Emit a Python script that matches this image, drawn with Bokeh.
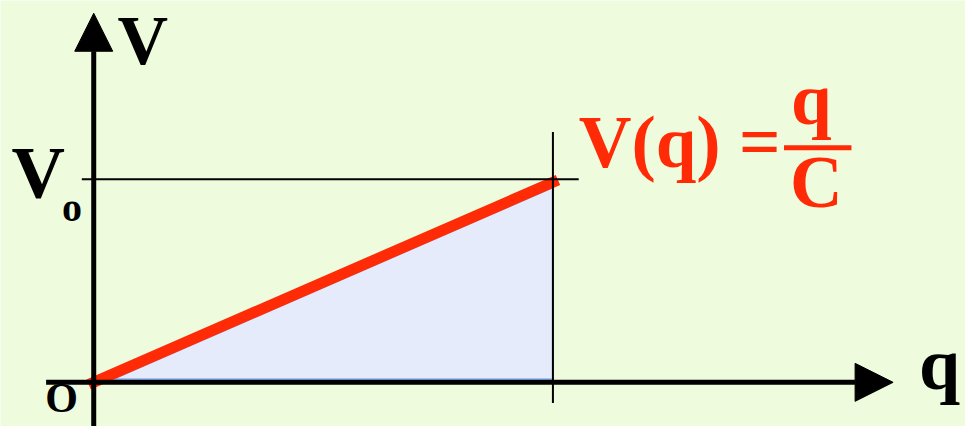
from bokeh.plotting import figure
from bokeh.models import Range1d, Arrow, NormalHead, Label
from bokeh.embed import file_html
from bokeh.resources import INLINE

# ---- data (charge q vs potential V for a capacitor, in units of Q0 / V0) ----
q_line = [0.0, 1.0]          # q from 0 to Q0
v_line = [0.0, 0.985]        # V(q) = q / C, reaching V0 at Q0
q_area = [0.04, 1.0, 1.0]    # shaded energy triangle
v_area = [0.015, 0.015, 0.96]
Q0 = 1.0
V0 = 1.0
axis_labels = ["V", "q"]
tick_labels = ["V", "o", "O"]
formula = ["V(q) =", "q", "C"]

# ---- layout helpers (reference pixel -> data units) ----
OX, OY = 94.0, 389.0       # origin in reference pixels
SX, SY = 463.0, 207.0      # reference pixels per unit
REF_W, REF_H = 973, 434
W, H = 965, 426
BASE_SHIFT = 0.37          # empirical baseline correction (em)

def dx(px):
    return (px - OX) / SX

def dy(py):
    return (OY - py) / SY

BG = "#EEFBDD"
RED = "#FF2B06"
FONT = "Liberation Serif"

p = figure(width=W, height=H, output_backend="svg", toolbar_location=None,
           x_range=Range1d(dx(0), dx(REF_W)),
           y_range=Range1d(dy(REF_H), dy(0)),
           x_axis_type=None, y_axis_type=None,
           min_border=0, min_border_left=0, min_border_right=0,
           min_border_top=0, min_border_bottom=0)
p.background_fill_color = BG
p.border_fill_color = BG
p.outline_line_color = None
p.grid.visible = False

# shaded triangle
p.patch(q_area, v_area, fill_color="#E5EBFB", line_color="#8DB5F6", line_width=2)

# V(q) line
p.line(q_line, v_line, line_color=RED, line_width=11, line_cap="square")

# guide lines at V0 and Q0
p.line([dx(82), dx(583)], [V0, V0], line_color="black", line_width=2)
p.line([Q0, Q0], [dy(410), dy(134)], line_color="black", line_width=2)

# axes with arrows
p.add_layout(Arrow(x_start=0, y_start=dy(REF_H + 10), x_end=0, y_end=dy(13),
                   line_color="black", line_width=5,
                   end=NormalHead(size=38, fill_color="black", line_color="black", line_width=1)))
p.add_layout(Arrow(x_start=dx(46), y_start=0, x_end=dx(900), y_end=0,
                   line_color="black", line_width=5,
                   end=NormalHead(size=38, fill_color="black", line_color="black", line_width=1)))

def lab(text, x_px, base_px, size, color="black"):
    p.add_layout(Label(x=dx(x_px), y=dy(base_px - BASE_SHIFT * size), text=text,
                       text_font=FONT, text_font_style="bold",
                       text_font_size=f"{size}px", text_color=color,
                       text_align="left", text_baseline="alphabetic"))

# axis labels
lab(axis_labels[0], 118, 67, 70)
lab(axis_labels[1], 926, 398, 74)
# tick labels
lab(tick_labels[0], 11, 203, 74)
lab(tick_labels[1], 62, 226, 40)
lab(tick_labels[2], 45, 420, 42)

# formula V(q) = q / C
lab(formula[0], 583, 172, 73, RED)
lab(formula[1], 797, 128, 73, RED)
lab(formula[2], 796, 212, 73, RED)
p.line([dx(790), dx(858)], [dy(150), dy(150)], line_color=RED, line_width=5)

open("out.html", "w").write(file_html(p, INLINE))
